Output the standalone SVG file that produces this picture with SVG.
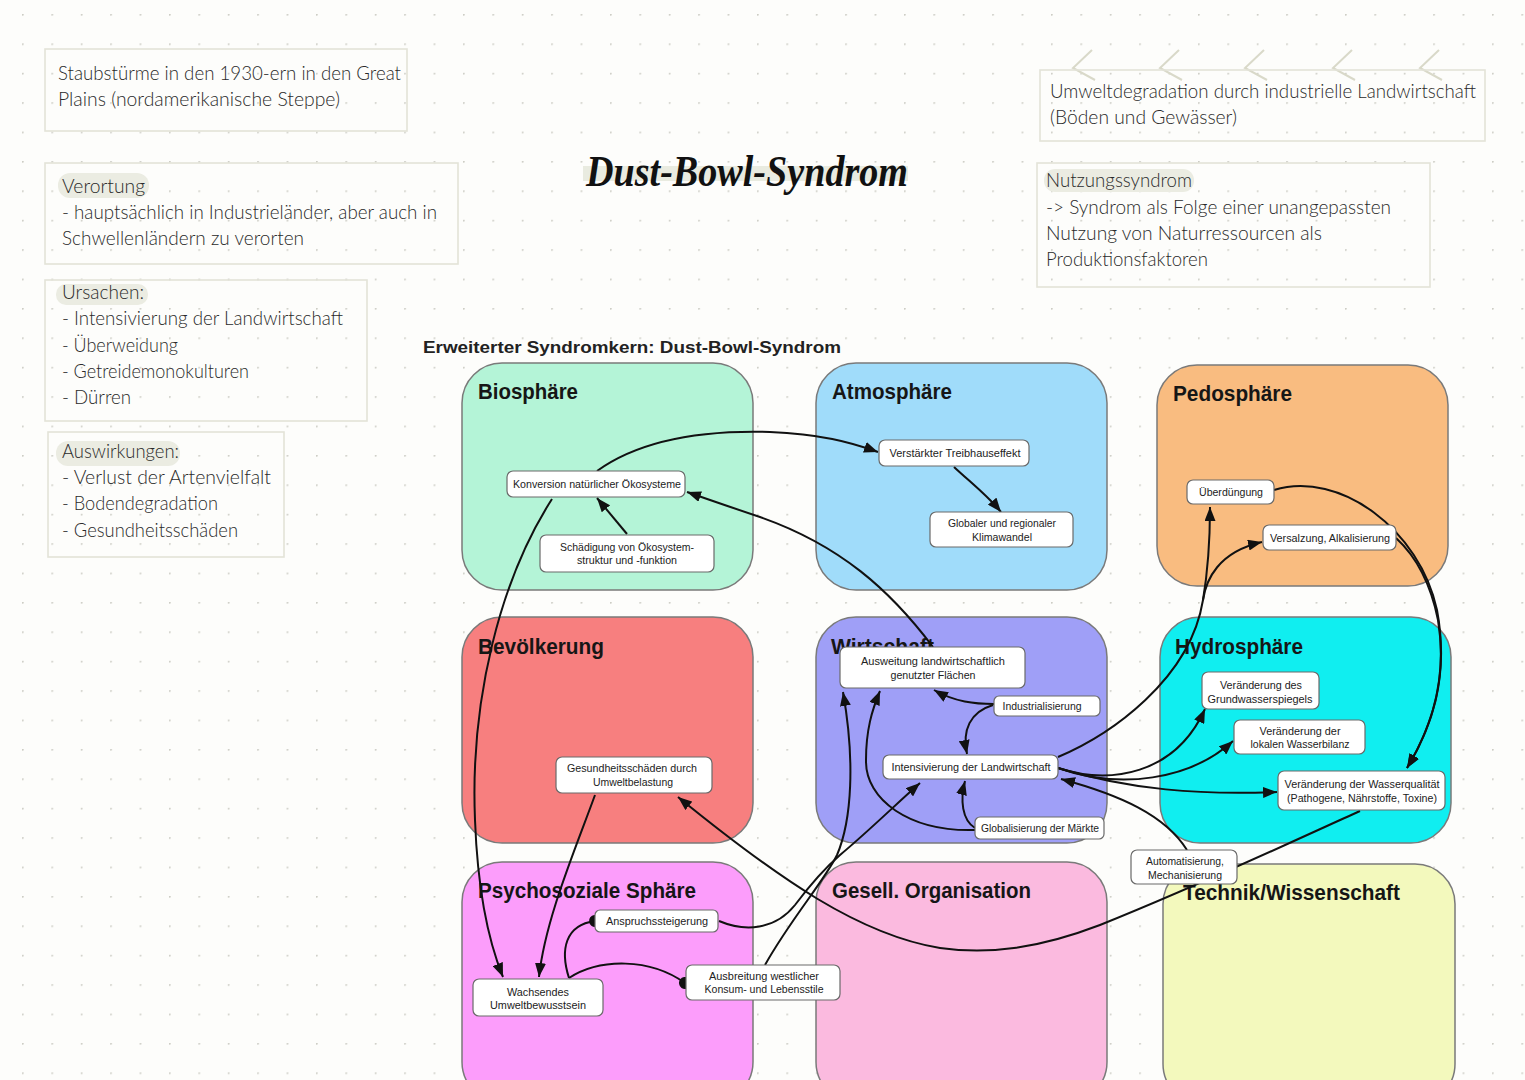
<svg xmlns="http://www.w3.org/2000/svg" width="1525" height="1080" viewBox="0 0 1525 1080">
<defs>
<pattern id="dots" x="22" y="14" width="29.4" height="29.4" patternUnits="userSpaceOnUse">
<circle cx="0.8" cy="0.8" r="1" fill="#cdcdc5"/>
</pattern>
<marker id="arr" markerUnits="userSpaceOnUse" markerWidth="15" markerHeight="11" refX="14" refY="5.5" orient="auto">
<path d="M0,0 L14,5.5 L0,11 z" fill="#111"/>
</marker>
<marker id="dot" markerUnits="userSpaceOnUse" markerWidth="14" markerHeight="14" refX="7" refY="7" orient="auto">
<circle cx="7" cy="7" r="6" fill="#111"/>
</marker>
<style>
.note{fill:none;stroke:#e3e3d8;stroke-width:1.6}
.hl{fill:#ebece2}
.hw{font-family:Lato,"Liberation Sans",sans-serif;font-weight:300;font-size:20px;fill:#2a2a2a}
.sph{stroke:#7a7a7a;stroke-width:1.5}
.st{font-family:"Liberation Sans",Arial,sans-serif;font-weight:bold;font-size:22px;fill:#161616}
.nd{fill:#fff;stroke:#6a6a6a;stroke-width:1.2}
.nt{font-family:"Liberation Sans",Arial,sans-serif;font-size:11px;fill:#222;text-anchor:middle}
.cn{fill:none;stroke:#111;stroke-width:2}
.ar{marker-end:url(#arr)}
.dt{marker-end:url(#dot)}
</style>
</defs>
<rect width="1525" height="1080" fill="#fdfdfb"/>
<rect width="1525" height="1080" fill="url(#dots)"/>

<g id="note-staub">
<rect class="note" x="45" y="49" width="362" height="82"/>
<text class="hw" x="58" y="80" textLength="343" lengthAdjust="spacingAndGlyphs">Staubstürme in den 1930-ern in den Great</text>
<text class="hw" x="58" y="106" textLength="282" lengthAdjust="spacingAndGlyphs">Plains (nordamerikanische Steppe)</text>
</g>
<g id="note-verortung">
<rect class="note" x="45" y="163" width="413" height="101"/>
<rect class="hl" x="58" y="173" width="91" height="25" rx="12"/>
<text class="hw" x="62" y="193" textLength="83" lengthAdjust="spacingAndGlyphs">Verortung</text>
<text class="hw" x="62" y="219" textLength="375" lengthAdjust="spacingAndGlyphs">- hauptsächlich in Industrieländer, aber auch in</text>
<text class="hw" x="62" y="245" textLength="242" lengthAdjust="spacingAndGlyphs">Schwellenländern zu verorten</text>
</g>
<g id="note-ursachen">
<rect class="note" x="45" y="280" width="322" height="141"/>
<rect class="hl" x="56" y="284" width="92" height="21" rx="10"/>
<text class="hw" x="62" y="299" textLength="82" lengthAdjust="spacingAndGlyphs">Ursachen:</text>
<text class="hw" x="62" y="325" textLength="281" lengthAdjust="spacingAndGlyphs">- Intensivierung der Landwirtschaft</text>
<text class="hw" x="62" y="352" textLength="116" lengthAdjust="spacingAndGlyphs">- Überweidung</text>
<text class="hw" x="62" y="378" textLength="187" lengthAdjust="spacingAndGlyphs">- Getreidemonokulturen</text>
<text class="hw" x="62" y="404" textLength="69" lengthAdjust="spacingAndGlyphs">- Dürren</text>
</g>
<g id="note-auswirkungen">
<rect class="note" x="48" y="432" width="236" height="125"/>
<rect class="hl" x="56" y="441" width="124" height="25" rx="12"/>
<text class="hw" x="62" y="458" textLength="117" lengthAdjust="spacingAndGlyphs">Auswirkungen:</text>
<text class="hw" x="62" y="484" textLength="209" lengthAdjust="spacingAndGlyphs">- Verlust der Artenvielfalt</text>
<text class="hw" x="62" y="510" textLength="156" lengthAdjust="spacingAndGlyphs">- Bodendegradation</text>
<text class="hw" x="62" y="537" textLength="176" lengthAdjust="spacingAndGlyphs">- Gesundheitsschäden</text>
</g>
<g id="note-umwelt">
<g fill="none" stroke="#d9d9c9" stroke-width="2">
<path d="M1092,50 L1073,68 L1095,80"/>
<path d="M1179,50 L1160,68 L1182,80"/>
<path d="M1264,50 L1245,68 L1267,80"/>
<path d="M1352,50 L1333,68 L1355,80"/>
<path d="M1439,50 L1420,68 L1442,80"/>
</g>
<rect class="note" x="1040" y="70" width="445" height="71"/>
<text class="hw" x="1050" y="98" textLength="426" lengthAdjust="spacingAndGlyphs">Umweltdegradation durch industrielle Landwirtschaft</text>
<text class="hw" x="1050" y="124" textLength="187" lengthAdjust="spacingAndGlyphs">(Böden und Gewässer)</text>
</g>
<g id="note-nutzung">
<rect class="note" x="1037" y="163" width="393" height="124"/>
<rect class="hl" x="1044" y="169" width="150" height="23" rx="11"/>
<text class="hw" x="1046" y="187" textLength="146" lengthAdjust="spacingAndGlyphs">Nutzungssyndrom</text>
<text class="hw" x="1046" y="214" textLength="345" lengthAdjust="spacingAndGlyphs">-&gt; Syndrom als Folge einer unangepassten</text>
<text class="hw" x="1046" y="240" textLength="276" lengthAdjust="spacingAndGlyphs">Nutzung von Naturressourcen als</text>
<text class="hw" x="1046" y="266" textLength="162" lengthAdjust="spacingAndGlyphs">Produktionsfaktoren</text>
</g>
<g id="title">
<rect x="583" y="166" width="325" height="15" fill="#e9ebe0"/>
<text x="586" y="186" font-family="'Liberation Serif','DejaVu Serif',serif" font-style="italic" font-weight="bold" font-size="44" fill="#111" textLength="322" lengthAdjust="spacingAndGlyphs">Dust-Bowl-Syndrom</text>
</g>
<g id="heading">
<text x="423" y="353" font-family="'Liberation Sans',Arial,sans-serif" font-weight="bold" font-size="17" fill="#222" textLength="418" lengthAdjust="spacingAndGlyphs">Erweiterter Syndromkern: Dust-Bowl-Syndrom</text>
</g>

<g id="sphere-biosphaere">
<rect class="sph" x="462" y="363" width="291" height="227" rx="40" fill="#b4f4d7"/>
<text class="st" x="478" y="399" textLength="100" lengthAdjust="spacingAndGlyphs">Biosphäre</text>
</g>
<g id="sphere-atmosphaere">
<rect class="sph" x="816" y="363" width="291" height="227" rx="40" fill="#a0dcfa"/>
<text class="st" x="832" y="399" textLength="120" lengthAdjust="spacingAndGlyphs">Atmosphäre</text>
</g>
<g id="sphere-pedosphaere">
<rect class="sph" x="1157" y="365" width="291" height="221" rx="40" fill="#f9bc80"/>
<text class="st" x="1173" y="401" textLength="119" lengthAdjust="spacingAndGlyphs">Pedosphäre</text>
</g>
<g id="sphere-bevoelkerung">
<rect class="sph" x="462" y="617" width="291" height="226" rx="40" fill="#f77f7f"/>
<text class="st" x="478" y="654" textLength="126" lengthAdjust="spacingAndGlyphs">Bevölkerung</text>
</g>
<g id="sphere-wirtschaft">
<rect class="sph" x="816" y="617" width="291" height="226" rx="40" fill="#9f9ff7"/>
<text class="st" x="831" y="654" textLength="103" lengthAdjust="spacingAndGlyphs">Wirtschaft</text>
</g>
<g id="sphere-hydrosphaere">
<rect class="sph" x="1160" y="617" width="291" height="226" rx="40" fill="#10eef0"/>
<text class="st" x="1175" y="654" textLength="128" lengthAdjust="spacingAndGlyphs">Hydrosphäre</text>
</g>
<g id="sphere-psychosozial">
<rect class="sph" x="462" y="862" width="291" height="240" rx="40" fill="#fc9dfb"/>
<text class="st" x="478" y="898" textLength="218" lengthAdjust="spacingAndGlyphs">Psychosoziale Sphäre</text>
</g>
<g id="sphere-gesell">
<rect class="sph" x="816" y="862" width="291" height="240" rx="40" fill="#fbbadf"/>
<text class="st" x="832" y="898" textLength="199" lengthAdjust="spacingAndGlyphs">Gesell. Organisation</text>
</g>
<g id="sphere-technik">
<rect class="sph" x="1163" y="864" width="292" height="240" rx="40" fill="#f3f9bd"/>
<text class="st" x="1183" y="900" textLength="217" lengthAdjust="spacingAndGlyphs">Technik/Wissenschaft</text>
</g>

<g id="connectors">
<path class="cn ar" d="M597,471 C640,440 700,430 770,432 C820,434 850,442 878,452"/>
<path class="cn ar" d="M933,647 C890,590 840,545 760,517 C730,507 710,500 687,492"/>
<path class="cn ar" d="M954,467 C970,482 988,496 1001,512"/>
<path class="cn ar" d="M627,534 L597,498"/>
<path class="cn ar" d="M552,499 C500,580 470,700 475,820 C478,900 492,950 503,977"/>
<path class="cn ar" d="M595,795 C575,850 545,920 539,977"/>
<path class="cn ar" d="M1360,811 C1300,838 1200,885 1100,925 C1040,948 990,955 940,948 C860,935 780,880 678,797"/>
<path class="cn ar" d="M765,965 C790,920 825,880 837,855 C852,820 855,760 843,692"/>
<path class="cn ar" d="M719,921 C745,932 775,930 795,905 C810,885 825,868 840,855 C870,830 895,805 920,783"/>
<path class="cn ar" d="M994,704 C975,704 955,702 934,690"/>
<path class="cn ar" d="M993,705 C970,712 962,730 967,754"/>
<path class="cn ar" d="M975,828 C962,820 960,800 965,781"/>
<path class="cn ar" d="M975,830 C910,832 865,800 866,760 C866,730 872,710 880,691"/>
<path class="cn ar" d="M1058,757 C1110,735 1190,680 1203,600 C1208,570 1210,540 1210,507"/>
<path class="cn ar" d="M1203,600 C1206,580 1218,552 1262,542"/>
<path class="cn ar" d="M1274,490 C1340,470 1420,530 1437,610 C1450,680 1430,730 1407,768"/>
<path class="cn ar" d="M1396,538 C1420,560 1432,590 1438,620 C1448,680 1430,730 1407,768"/>
<path class="cn ar" d="M1058,768 C1110,785 1175,775 1205,709"/>
<path class="cn ar" d="M1058,768 C1120,790 1190,780 1233,741"/>
<path class="cn ar" d="M1058,768 C1130,790 1200,795 1277,792"/>
<path class="cn ar" d="M1187,850 C1165,815 1120,795 1061,779"/>
<path class="cn dt" d="M569,978 C560,950 565,925 595,921"/>
<path class="cn dt" d="M569,978 C600,958 650,958 685,983"/>
</g>

<g id="n-konversion"><rect class="nd" x="507" y="471" width="178" height="26" rx="6"/><text class="nt" x="597" y="488" textLength="168" lengthAdjust="spacingAndGlyphs">Konversion natürlicher Ökosysteme</text></g>
<g id="n-schaedigung"><rect class="nd" x="540" y="535" width="174" height="37" rx="6"/><text class="nt" x="627" y="551" textLength="134" lengthAdjust="spacingAndGlyphs">Schädigung von Ökosystem-</text><text class="nt" x="627" y="564" textLength="100" lengthAdjust="spacingAndGlyphs">struktur und -funktion</text></g>
<g id="n-treibhaus"><rect class="nd" x="879" y="440" width="150" height="26" rx="6"/><text class="nt" x="955" y="457" textLength="131" lengthAdjust="spacingAndGlyphs">Verstärkter Treibhauseffekt</text></g>
<g id="n-klima"><rect class="nd" x="930" y="512" width="143" height="35" rx="6"/><text class="nt" x="1002" y="527" textLength="108" lengthAdjust="spacingAndGlyphs">Globaler und regionaler</text><text class="nt" x="1002" y="541" textLength="60" lengthAdjust="spacingAndGlyphs">Klimawandel</text></g>
<g id="n-ueberduengung"><rect class="nd" x="1187" y="480" width="87" height="24" rx="6"/><text class="nt" x="1231" y="496" textLength="64" lengthAdjust="spacingAndGlyphs">Überdüngung</text></g>
<g id="n-versalzung"><rect class="nd" x="1263" y="525" width="133" height="25" rx="6"/><text class="nt" x="1330" y="542" textLength="120" lengthAdjust="spacingAndGlyphs">Versalzung, Alkalisierung</text></g>
<g id="n-gesundheit"><rect class="nd" x="556" y="757" width="156" height="36" rx="6"/><text class="nt" x="632" y="772" textLength="130" lengthAdjust="spacingAndGlyphs">Gesundheitsschäden durch</text><text class="nt" x="633" y="786" textLength="80" lengthAdjust="spacingAndGlyphs">Umweltbelastung</text></g>
<g id="n-ausweitung"><rect class="nd" x="840" y="647" width="185" height="41" rx="6"/><text class="nt" x="933" y="665" textLength="144" lengthAdjust="spacingAndGlyphs">Ausweitung landwirtschaftlich</text><text class="nt" x="933" y="679" textLength="85" lengthAdjust="spacingAndGlyphs">genutzter Flächen</text></g>
<g id="n-industrialisierung"><rect class="nd" x="994" y="696" width="106" height="20" rx="5"/><text class="nt" x="1042" y="710" textLength="79" lengthAdjust="spacingAndGlyphs">Industrialisierung</text></g>
<g id="n-intensivierung"><rect class="nd" x="883" y="755" width="175" height="24" rx="6"/><text class="nt" x="971" y="771" textLength="159" lengthAdjust="spacingAndGlyphs">Intensivierung der Landwirtschaft</text></g>
<g id="n-globalisierung"><rect class="nd" x="975" y="817" width="129" height="22" rx="5"/><text class="nt" x="1040" y="832" textLength="118" lengthAdjust="spacingAndGlyphs">Globalisierung der Märkte</text></g>
<g id="n-grundwasser"><rect class="nd" x="1202" y="672" width="117" height="37" rx="6"/><text class="nt" x="1261" y="689" textLength="82" lengthAdjust="spacingAndGlyphs">Veränderung des</text><text class="nt" x="1260" y="703" textLength="105" lengthAdjust="spacingAndGlyphs">Grundwasserspiegels</text></g>
<g id="n-wasserbilanz"><rect class="nd" x="1234" y="720" width="131" height="34" rx="6"/><text class="nt" x="1300" y="735" textLength="81" lengthAdjust="spacingAndGlyphs">Veränderung der</text><text class="nt" x="1300" y="748" textLength="99" lengthAdjust="spacingAndGlyphs">lokalen Wasserbilanz</text></g>
<g id="n-wasserqualitaet"><rect class="nd" x="1278" y="771" width="167" height="39" rx="6"/><text class="nt" x="1362" y="788" textLength="155" lengthAdjust="spacingAndGlyphs">Veränderung der Wasserqualität</text><text class="nt" x="1362" y="802" textLength="150" lengthAdjust="spacingAndGlyphs">(Pathogene, Nährstoffe, Toxine)</text></g>
<g id="n-automatisierung"><rect class="nd" x="1131" y="850" width="106" height="34" rx="6"/><text class="nt" x="1185" y="865" textLength="78" lengthAdjust="spacingAndGlyphs">Automatisierung,</text><text class="nt" x="1185" y="879" textLength="74" lengthAdjust="spacingAndGlyphs">Mechanisierung</text></g>
<g id="n-anspruch"><rect class="nd" x="595" y="910" width="123" height="22" rx="5"/><text class="nt" x="657" y="925" textLength="102" lengthAdjust="spacingAndGlyphs">Anspruchssteigerung</text></g>
<g id="n-umweltbewusstsein"><rect class="nd" x="473" y="979" width="130" height="37" rx="6"/><text class="nt" x="538" y="996" textLength="62" lengthAdjust="spacingAndGlyphs">Wachsendes</text><text class="nt" x="538" y="1009" textLength="96" lengthAdjust="spacingAndGlyphs">Umweltbewusstsein</text></g>
<g id="n-konsum"><rect class="nd" x="686" y="965" width="154" height="35" rx="6"/><text class="nt" x="764" y="980" textLength="110" lengthAdjust="spacingAndGlyphs">Ausbreitung westlicher</text><text class="nt" x="764" y="993" textLength="119" lengthAdjust="spacingAndGlyphs">Konsum- und Lebensstile</text></g>
</svg>
